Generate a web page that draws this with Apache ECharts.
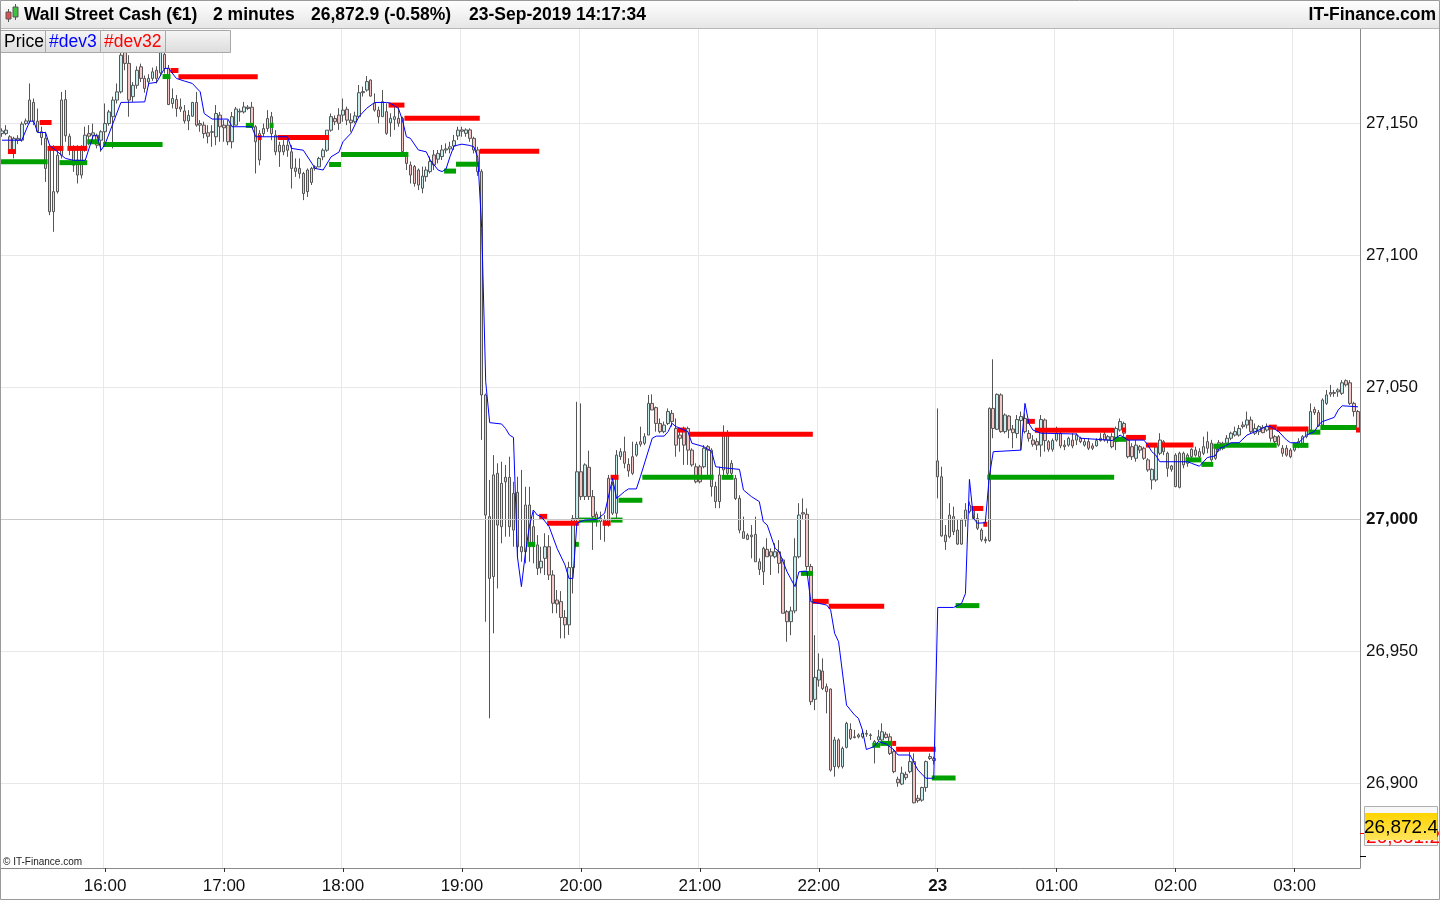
<!DOCTYPE html>
<html><head><meta charset="utf-8">
<script src="https://cdn.jsdelivr.net/npm/echarts@6/dist/echarts.min.js"></script>
<style>html,body{margin:0;padding:0;background:#fff}#c{width:1440px;height:900px}</style>
</head><body><div id="c"></div>
<script>
// ---------- DATA ----------
const sessions = [['15:08', 236], ['00:00', 107]];   // Friday session, Monday session (2-minute bars)
const dayLabel = '23';                                // label shown at 00:00 of Monday
const yMin = 26867.8, yMax = 27186;
const lastPrice = 26872.4, otherPrice = 26881.2;
const headerTexts = ['Wall Street Cash (€1)', '2 minutes', '26,872.9 (-0.58%)', '23-Sep-2019 14:17:34'];
const siteName = 'IT-Finance.com';
const legendNames = ['Price', '#dev3', '#dev32'];

// [open, close, low, high]
const candles = [
[27146,27147,27144.8,27148],[27146,27147.3,27145.4,27149.2],[27144.8,27139.7,27139,27145.4],[27138.5,27144.2,27136.6,27144.8],
[27144.2,27143.5,27142,27145.4],[27143.5,27149.6,27142.9,27150.5],[27149.8,27150.8,27149.2,27151.7],[27150.7,27158.7,27149.8,27165],
[27157.8,27150.7,27149.2,27159.3],[27150.7,27146.7,27146.7,27155.5],[27146.7,27144.5,27141.6,27148.6],[27144.2,27132.8,27127.7,27146.7],
[27140.4,27116.4,27115.1,27141.6],[27116.4,27124,27108.8,27141.6],[27124,27137.8,27123.3,27140.4],[27137.8,27158.7,27136.6,27161.8],
[27158.9,27145.2,27142.9,27162.5],[27145,27140.4,27137.8,27146],[27141,27134,27131.5,27141.6],[27136,27130.3,27127.1,27141.6],
[27130.3,27140.4,27129,27141.6],[27140.4,27145.4,27139.1,27148.6],[27146,27145,27141.6,27149.2],[27145.4,27146.3,27143.5,27149.8],
[27145.4,27141.6,27140.4,27146],[27143.5,27146.7,27139.1,27147.3],[27146.7,27149.8,27141.6,27157.4],[27149.8,27154.2,27149,27155],
[27152.4,27158.7,27140.4,27160],[27158.7,27161.8,27157.4,27165],[27161.8,27175.7,27161.2,27177],[27178,27172.6,27170,27182],
[27172.6,27158.7,27152.4,27175.7],[27160,27164.3,27158,27165.5],[27164.3,27170,27163,27171.5],[27171.3,27166.9,27165.5,27172.5],
[27166.9,27163.1,27161.5,27168],[27165.6,27166.9,27164,27168.5],[27166.9,27169.4,27166,27171],[27170,27166.9,27165,27171.5],
[27169,27177,27168,27182],[27176,27170.6,27168.8,27180],[27170.8,27157,27156.8,27172],[27157.4,27159.3,27155.5,27163.1],
[27158.9,27155.5,27152.4,27160.6],[27156.1,27155.3,27154.2,27159.3],[27154.6,27150.8,27149.8,27156.8],[27150.8,27152.9,27147.3,27154.9],
[27152.6,27157.8,27152.4,27158],[27157.8,27149.2,27148.6,27161.8],[27149.8,27149.2,27146.7,27151.1],[27149.2,27146,27144.2,27150.5],
[27146.3,27145,27142.3,27149.2],[27146.5,27146.7,27141,27149.2],[27144.8,27153.6,27141.6,27156.8],[27153,27148.6,27142.9,27154.2],
[27149.2,27148.2,27142.9,27151.1],[27149.2,27142.9,27141.6,27151.1],[27142.9,27152.4,27140.4,27154.2],[27149.2,27155.3,27149.2,27156.1],
[27154.2,27154.5,27150.5,27155.5],[27154.2,27156.1,27153.6,27158],[27156,27155.5,27154.9,27156.8],[27156,27148.6,27148.6,27158],
[27148.6,27142.9,27130.9,27149.2],[27136,27146,27134,27147.3],[27146,27147.9,27144.8,27149.8],[27147.9,27151.7,27146.7,27154.9],
[27152.4,27146,27143.5,27154.2],[27145.4,27139.1,27137.8,27147.3],[27141.6,27139.1,27133.4,27142.9],[27139.1,27141.6,27137.8,27143.5],
[27141.6,27139.7,27137.2,27143.5],[27139.1,27132.8,27125.2,27141.6],[27133,27131.7,27129.6,27136.6],[27132.8,27130.9,27129,27136.6],
[27130.9,27123.3,27120.8,27131.5],[27132.2,27124,27122,27132.8],[27127.5,27132.8,27126.5,27133.4],[27132.8,27133.4,27132,27134],
[27133.4,27136.6,27133.4,27137.2],[27137.2,27139.7,27135.9,27140.4],[27139.7,27147.3,27139.1,27147.3],[27147.3,27152.4,27146.7,27153.6],
[27151.7,27150.5,27149.2,27152.9],[27153,27149.9,27147.4,27155.6],[27153,27154.9,27150.5,27159.3],[27155.2,27151.1,27149.2,27156.2],
[27151.1,27150.1,27146.7,27153.7],[27150.5,27152.7,27149.9,27154.3],[27152.4,27161.5,27152.4,27164.4],[27161.5,27161.9,27160,27163.8],
[27162.5,27165.7,27161.9,27167.8],[27166.3,27160.2,27160,27166.5],[27157.5,27154.9,27154.3,27161.2],[27154.9,27152.4,27149.9,27156.2],
[27152.4,27158.1,27152.4,27162.5],[27154.3,27146.1,27145.5,27157.5],[27150.1,27151.8,27144.8,27153.7],[27151.4,27152.4,27147.4,27156.2],
[27151.8,27149.9,27148.6,27157.5],[27151.8,27139.2,27138.5,27152.4],[27137.9,27134.7,27132.2,27139.1],[27134.1,27130.3,27127.1,27135.4],
[27133.5,27127.1,27125.9,27134.1],[27132.2,27126.5,27124.6,27132.8],[27125.3,27129.9,27123.4,27133.5],[27129.7,27132.2,27127.8,27133.5],
[27131.6,27135.4,27130.9,27137.3],[27137.9,27134.1,27132.2,27139.8],[27136.3,27138.5,27134.7,27139.8],[27137.3,27139.8,27136,27141.7],
[27139.8,27140.2,27138.5,27142.3],[27140.2,27141,27138.5,27142.9],[27141.3,27143.3,27139.8,27145.5],[27145.1,27147.3,27143.6,27148.6],
[27147.4,27146.9,27144.8,27148.6],[27146.1,27147.4,27144.8,27148],[27147.4,27144.2,27142.9,27148],[27144.2,27139.8,27138.5,27144.8],
[27139.8,27131.6,27130,27141],[27131.6,27047,27030,27132.5],[27047,27001.5,26961.1,27047.5],[27000.9,26977.5,26924.5,27014.8],
[26978.2,27016.7,26956.7,27024.2],[27017.3,26997.7,26973.7,27021.1],[26997.1,27013.5,26990.8,27021.7],[27015.8,27014.1,26993.3,27020.5],
[27015.8,26997.1,26993.3,27023.6],[27009.7,26995.8,26989.5,27014.1],[27010.1,26989.5,26985.1,27016],[26989.5,26987.6,26983.8,27018.6],
[26987.6,27005.3,26983.2,27012.2],[27005.3,26989.5,26983.8,27012.2],[26997.1,26989.5,26983.2,27002.8],[26990.2,26981.3,26978.8,26993.9],
[26981.5,26984,26979.4,26989.5],[26985.1,26989.5,26978.8,26994.6],[26989.5,26978.8,26976.9,26993.9],[26978.8,26968.1,26964.3,26980.6],
[26969.3,26967.8,26964.3,26973.1],[26968.7,26962.7,26954.8,26972.7],[26962.7,26959.9,26954.8,26965.5],[26959.9,26981.6,26956.1,26983.8],
[26981.6,27000.2,26971.8,27001.5],[27000.2,27017.9,26999,27044.4],[27017.9,27008.5,27007.2,27043.8],[27008.5,27020.5,27007.2,27021.1],
[27019.6,27008.5,27007.2,27025.9],[27008.5,27000.9,26988.3,27011],[27001.8,26999.6,26997.1,27002.8],[26999,27000.3,26992.1,27002.8],
[26997.7,26999.6,26991.4,27001.5],[27015.4,26999,26997.1,27016.7],[27002.2,27012.9,27001.5,27014.1],[27002.2,27024.2,26999,27026.1],
[27023.6,27025.5,27022.4,27026.8],[27025.5,27021.1,27019.2,27031.2],[27020.7,27018.2,27016,27023],[27023.6,27017.3,27016.7,27029.3],
[27024.2,27028.3,27023.6,27029.3],[27029.3,27028.3,27027.4,27035],[27028.7,27031.2,27028,27032.5],[27031.8,27043.8,27031.8,27047],
[27043.8,27041.3,27041.3,27047.2],[27042.2,27036.2,27033.1,27042.6],[27036.2,27033.1,27032.5,27038.1],[27033.1,27035.6,27032.5,27036.9],
[27036.2,27040.7,27035.6,27041.9],[27040,27036.9,27035,27041.3],[27034.3,27028,27023.6,27038.1],[27031.8,27030.6,27025.5,27033.1],
[27034.3,27028,27020.5,27035],[27034.3,27026.1,27020.5,27035],[27026.1,27020.5,27019.8,27026.8],[27019.8,27014.1,27013.5,27021.1],
[27019.8,27014.1,27013.5,27020.5],[27019.8,27026.8,27019.2,27028],[27027.4,27026.1,27016.7,27028],[27026.1,27012.3,27008.5,27026.8],
[27012.3,27006.6,27004.1,27014.1],[27006.6,27016.7,27004.1,27019.8],[27018.6,27032.4,27016,27035.5],[27032.4,27017.3,27016.7,27033.7],
[27021.1,27017.3,27016,27022.3],[27015.4,27007.8,27007.2,27016.7],[27007.8,26995.8,26994.6,27009],[26995.2,26992.7,26992.7,27000.9],
[26992.3,26993.9,26992,26994.6],[26993.9,26993.3,26985.1,26997.7],[26994.2,26983.8,26983.8,27000.9],[26983.8,26980.9,26978.8,26985.1],
[26980,26988.9,26975,26989.5],[26988.5,26985.7,26985.7,26992.7],[26987.6,26986,26978.8,26988.9],[26985.7,26987.6,26985.1,26990.8],
[26987.6,26983.2,26979.4,26992],[26984.5,26964.3,26964.3,26985.1],[26964.9,26961.1,26953.5,26965.5],[26961.1,26965.2,26956,26966.8],
[26965.2,26985.7,26964.3,26992.7],[26985.7,27001.5,26985.1,27006],[27002.4,27001.9,26999.6,27007.8],[27001.8,26982,26980.7,27004],
[26982,26930.8,26929.5,26983],[26931.7,26940,26927.6,26956],[26939,26942.8,26936.5,26949.1],[26942.4,26935.8,26935.2,26947.2],
[26936.5,26934.6,26926.4,26937.7],[26935.6,26904.9,26904.3,26935.8],[26906.2,26916.3,26902.4,26917.5],[26916.3,26906.2,26905.5,26916.9],
[26906.2,26913.1,26905.5,26913.8],[26913.5,26922.6,26913.1,26923.2],[26920.3,26916.9,26916.3,26922.6],[26917.5,26917.2,26916.9,26920.1],
[26918.2,26917.5,26916.9,26918.8],[26917.5,26918.8,26916.9,26920.1],[26918.8,26918.5,26917.5,26920.1],[26918.2,26918,26916.3,26918.8],
[26913.8,26915.7,26907.4,26916.3],[26916.3,26917.5,26915.7,26920.1],[26916.3,26919.4,26915.7,26922.6],[26918.5,26917.2,26916.9,26919.4],
[26917.5,26911.2,26910.6,26918.8],[26911.9,26904.3,26903.7,26912.5],[26901.4,26900.1,26898.6,26902.4],[26899.6,26903.7,26899.2,26906.2],
[26903.3,26902,26901.1,26904.3],[26904.3,26908.1,26903.7,26911.9],[26908.1,26892.5,26892.3,26911.2],[26894.2,26893.3,26892.5,26895.5],
[26893.5,26898.3,26892.9,26898.6],[26898.3,26908.1,26896.7,26908.5],[26910,26909.3,26908.7,26911.2],[26909.3,26908.5,26907,26910],
[27022,27016,27007.8,27041.9],[27016,26993.6,26993.3,27019.8],[26993.9,26991.4,26988.3,26997.7],[26993.3,27001.5,26992.7,27006],
[27000.9,26995.2,26993.9,27004.7],[26995.8,26990.5,26990.2,26999.6],[26990.5,26999.6,26990.2,27000.2],[26999.6,27003.4,26997.1,27006],
[27002.8,27005.3,27002.1,27006.6],[27003.4,27000.2,26999.6,27004.7],[27000.2,26996.5,26995.8,27002.1],[26995.8,26992.1,26991.4,26996.5],
[26992.3,26991.8,26990.8,26993.3],[26991.8,27041.9,26991.4,27042.3],[27041.9,27034.3,27030.6,27060.5],[27034,27047.2,27033.7,27047.6],
[27047,27033.1,27032.7,27047.6],[27033.1,27039.4,27032.4,27040],[27039,27033.7,27030.6,27039.4],[27034.1,27032.7,27026.8,27035.6],
[27032.4,27037.7,27030.6,27039.4],[27037.3,27038.8,27026.1,27040.7],[27038.1,27033.1,27032.4,27040],[27032.4,27030.6,27029.3,27033.7],
[27029.9,27028.3,27027.4,27031.8],[27029.3,27028,27026.1,27030.6],[27028,27037.7,27023.6,27039.4],[27037.5,27029.7,27025.5,27038.1],
[27029.3,27026.4,27025.5,27029.9],[27026.4,27029.7,27025.5,27030.5],[27029.9,27032.5,27029.3,27035],[27032.5,27027.7,27026.8,27033.1],
[27028,27027.4,27026.1,27029.9],[27028,27030.6,27027.4,27031.2],[27029.9,27027.7,27026.8,27032.5],[27029.9,27031.8,27028,27032.5],
[27030.6,27029.3,27028.7,27031.2],[27028,27029.3,27027.4,27030.6],[27029.3,27026.8,27026.1,27030.6],[27027.7,27026.8,27026.1,27028.7],
[27027.7,27029.7,27027.4,27030.6],[27029.7,27030.6,27029.3,27032.5],[27032.2,27029.9,27029.3,27033.1],[27029.9,27031.2,27028.7,27031.8],
[27031.2,27027.4,27026.8,27032.5],[27029.3,27034.3,27026.1,27035],[27033.7,27036.9,27033.1,27038.1],[27036.2,27032.5,27031.2,27036.9],
[27029.9,27023.6,27023,27031.2],[27027.4,27023.6,27022.4,27028.7],[27023,27028,27021.7,27029.9],[27027.4,27026.1,27024.9,27028],
[27026.8,27023,27022.4,27027.4],[27022.4,27018.6,27017.9,27023],[27014.8,27018.8,27011.2,27019.2],[27014.8,27027.4,27014.1,27028.7],
[27024.9,27029.9,27024.2,27032.5],[27029.3,27025.5,27024.2,27029.9],[27024.9,27019.2,27016,27025.5],[27020.1,27018.8,27017.9,27020.5],
[27024.2,27012.3,27012,27024.9],[27012,27024.9,27011.6,27025.5],[27020.5,27024.9,27019.2,27025.5],[27024.2,27021.1,27019.8,27024.9],
[27023.6,27026.4,27023,27026.8],[27026.1,27024.2,27023.6,27027.4],[27023.6,27025.5,27023,27026.8],[27024.9,27027.4,27024.2,27031.2],
[27026.8,27029.3,27024.9,27033.1],[27028.7,27022.4,27021.7,27030],[27023,27026.8,27022.4,27028],[27026.1,27028.9,27025.5,27029.9],
[27028.7,27026.8,27026.1,27029.3],[27028.7,27030.6,27028,27031.8],[27030.6,27032.5,27029.9,27033.1],[27031.8,27033.1,27031.2,27035],
[27031.8,27034.3,27031.2,27035.6],[27035.6,27035,27034.3,27036.9],[27035.6,27037.5,27034.3,27040.7],[27037.5,27033.1,27032.5,27038.8],
[27032.5,27034.3,27031.8,27036.2],[27033.1,27035,27031.8,27035.6],[27034.7,27032.7,27032.5,27035.6],[27033.7,27035,27033.1,27036.2],
[27034.3,27030.6,27029.3,27035.6],[27031.2,27029.3,27028,27031.8],[27031.2,27028,27027.4,27031.8],[27026.8,27024.9,27023.6,27028],
[27026.8,27024.2,27023.6,27028],[27026.1,27023.6,27023,27026.8],[27026.1,27028,27025.5,27028.7],[27027.4,27029.3,27026.8,27030.6],
[27028.7,27031.2,27028,27031.8],[27031.2,27033.7,27030.6,27035],[27033.7,27040.7,27033.1,27043.8],[27041.5,27040.3,27039.4,27042.5],
[27040.3,27035.2,27035,27041.3],[27035.6,27045.1,27035,27045.7],[27043.8,27047,27043.2,27048.9],[27047.9,27047.3,27046.3,27050.8],
[27047.9,27047.6,27046.3,27048.9],[27048.2,27048.9,27046.3,27049.5],[27047.6,27051.6,27047,27052.6],[27052.4,27050.8,27050.2,27052.9],
[27051.6,27043.8,27043.2,27052.6],[27043.8,27040.7,27038.8,27044.4],[27040.7,27034.3,27033,27041.3]
];

// #dev3 (blue line) vertices: [bar index, value]
const dev3 = [
[0,27143.5],[5,27143.5],[7,27150.7],[8,27150.7],[9,27146.4],[11,27146.4],[12,27141.6],[16,27136.6],[18,27135.9],[21,27135.9],
[23,27145.2],[24,27145.2],[25,27139.7],[26,27142],[30,27157.8],[36,27158],[37,27165],[39,27165.4],[41,27170.7],[42,27170.7],
[44,27166.9],[46,27165.9],[48,27165],[50,27161.8],[51,27153.6],[53,27151.5],[57,27151.5],[58,27148.6],[63,27148.6],[64,27144.8],
[72,27144.8],[73,27140.4],[76,27139.7],[79,27132.8],[81,27132.2],[83,27137.2],[85,27139],[86,27142.9],[88,27146.1],[90,27152.4],
[92,27155.6],[94,27157.8],[97,27157.8],[98,27157.5],[100,27155.5],[101,27151.1],[102,27144.8],[103,27144.2],[105,27139.8],[107,27139.1],
[108,27136],[110,27132.2],[111,27131.6],[112,27132.6],[113,27137.3],[114,27141.3],[116,27142],[118,27141.5],[119,27141],[120,27137],
[121,27110],[122,27052],[123,27036.5],[126,27036],[127,27034.3],[128,27031.8],[129,27030.9],[130,26985.7],[131,26974.4],[132,26987],
[133,26997.1],[134,27003.4],[135,27001.5],[136,27000.9],[138,26997.1],[140,26988.9],[142,26982.6],[143,26977.5],[144,26977.5],[145,26998.4],
[147,26999.6],[150,26999.8],[152,27002.2],[154,27015.4],[155,27007.8],[157,27010.4],[158,27011.4],[160,27011.4],[161,27016],[164,27030.6],
[165,27031.4],[167,27031.4],[168,27033.1],[169,27036.2],[170,27035],[173,27033.1],[174,27028.7],[177,27027.4],[179,27025.5],[180,27019.8],
[182,27019.4],[186,27018.8],[187,27011],[189,27008.5],[191,27006.6],[192,26999],[193,26997.7],[195,26988.9],[196,26987.6],[198,26980],
[200,26974.4],[201,26980],[203,26980.3],[204,26968.7],[208,26967.4],[209,26965.5],[210,26956.7],[211,26953.5],[213,26929.5],[215,26925.8],
[216,26924.5],[217,26920.1],[218,26912.7],[220,26913.8],[221,26915.7],[223,26914.8],[225,26912.5],[226,26910.6],[229,26910.6],[231,26904.9],
[233,26901.8],[235,26901.8],
[236,26966.5],[240,26966.5],[242,26968],[243,26971.8],[244,27015],[245,27000.3],[246,26998.4],[248,26998.6],[249,27016],[250,27025.5],
[257,27026.1],[258,27043.8],[259,27036.2],[260,27033.7],[262,27032.5],[271,27032.2],[272,27030.6],[279,27029.9],[280,27029.7],[282,27031.8],
[284,27029.9],[288,27029.9],[289,27028],[290,27025.5],[291,27024.2],[292,27021.7],[299,27021.7],[300,27021.1],[302,27020],[304,27023.3],
[306,27023.9],[307,27026.8],[308,27027.2],[310,27028.9],[312,27028.9],[314,27031.8],[317,27033.7],[319,27035.2],[320,27035],[322,27033.1],
[324,27029.9],[325,27028.9],[327,27028.9],[329,27031.8],[331,27033.1],[332,27035.6],[333,27036.9],[336,27038.5],[337,27041.3],[338,27042.9],
[342,27042.5]
];

// #dev32 levels: [first bar, last bar, value]
const redLevels = [
[2,3,27139.2],[10,12,27150.2],[12,15,27140.4],[17,21,27140.4],[43,44,27169.9],[45,64,27167.5],[65,65,27144.5],[70,82,27144.5],
[98,101,27156.8],[102,120,27151.8],[121,135,27139.3],[136,137,27001],[138,145,26998.4],[152,153,26998.4],[154,155,27015.8],
[171,172,27033.7],[174,204,27032.1],[205,208,26968.8],[209,222,26967],[225,225,26915],[226,235,26912.8],
[245,247,27004],[248,248,26998],[259,260,27037],[261,280,27033.6],[283,283,27033.7],[284,288,27030.9],[289,291,27028],
[293,300,27028],[320,321,27034.8],[322,329,27034.1],[342,342,27033.7]
];
const greenLevels = [
[0,11,27135.3],[15,21,27135],[22,24,27142.9],[26,40,27141.9],[41,42,27167.6],[62,63,27149.1],[68,68,27149.1],[83,85,27134.3],
[86,102,27138.1],[112,114,27131.8],[115,120,27134.4],[133,134,26990.4],[145,145,26990.4],[146,150,26999.6],[154,156,26999.6],
[156,161,27007.1],[162,179,27015.8],[182,184,27015.8],[202,204,26979.4],[220,221,26914.3],[222,224,26915],[235,240,26901.9],
[241,246,26967.2],[249,280,27015.8],[281,283,27030.2],[299,302,27022.4],[303,305,27020.7],[306,308,27027.6],[309,321,27027.9],
[326,329,27027.9],[330,332,27032.9],[333,341,27034.7]
];

// ---------- BUILD ----------
function buildTimes() {
  const out = [];
  for (const [start, n] of sessions) {
    let [h, m] = start.split(':').map(Number);
    for (let k = 0; k < n; k++) {
      out.push(String(h).padStart(2, '0') + ':' + String(m).padStart(2, '0'));
      m += 2; if (m >= 60) { m -= 60; h = (h + 1) % 24; }
    }
  }
  return out;
}
const times = buildTimes();
const isHour = (idx, val) => val.slice(3) === '00';
const FONT = '"Liberation Sans", Arial, sans-serif';
const fmt = v => v.toLocaleString('en-US');

function levelSeries(data, color) {
  return {
    type: 'custom', data, encode: { x: [0, 1], y: 2 }, z: 4, animation: false, silent: true,
    renderItem: (params, api) => {
      const s = api.value(0), e = api.value(1), v = api.value(2);
      const a = api.coord([s, v]), b = api.coord([e, v]);
      const w = api.size([1, 0])[0];
      return { type: 'rect', shape: { x: a[0] - w / 2, y: a[1] - 2.5, width: b[0] - a[0] + w, height: 5 }, style: { fill: color } };
    }
  };
}

const chart = echarts.init(document.getElementById('c'));
chart.setOption({
  animation: false,
  backgroundColor: '#ffffff',
  grid: { left: 0, right: 80, top: 28, bottom: 32, containLabel: false },
  xAxis: {
    type: 'category', data: times, boundaryGap: true,
    axisLine: { show: true, lineStyle: { color: '#8a8a8a' } },
    axisTick: { show: true, interval: isHour, alignWithLabel: true, length: 4, lineStyle: { color: '#333' } },
    axisLabel: {
      interval: isHour, margin: 10, fontSize: 17, color: '#111', fontFamily: FONT,
      formatter: v => v === '00:00' ? '{b|' + dayLabel + '}' : v,
      rich: { b: { fontWeight: 'bold', fontSize: 17, fontFamily: FONT, color: '#111' } }
    },
    splitLine: { show: true, interval: isHour, lineStyle: { color: '#e8e8e8', width: 1 } }
  },
  yAxis: {
    type: 'value', position: 'right', min: yMin, max: yMax, minInterval: 50, maxInterval: 50, splitNumber: 6,
    axisLine: { show: true, lineStyle: { color: '#8a8a8a' } },
    axisTick: { show: false },
    axisLabel: {
      showMinLabel: false, showMaxLabel: false, margin: 6, fontSize: 17, color: '#111', fontFamily: FONT,
      formatter: v => v === 27000 ? '{b|' + fmt(v) + '}' : fmt(v),
      rich: { b: { fontWeight: 'bold', fontSize: 17, fontFamily: FONT, color: '#111' } }
    },
    splitLine: { show: true, lineStyle: { color: '#e8e8e8', width: 1 } }
  },
  series: [
    {
      type: 'candlestick', data: candles, barWidth: 3, z: 2,
      itemStyle: { color: '#c4efee', color0: '#f5c6c6', borderColor: '#555555', borderColor0: '#555555', borderWidth: 1 },
      markLine: { silent: true, symbol: 'none', label: { show: false }, lineStyle: { color: '#c9c9c9', width: 1, type: 'solid' }, data: [{ yAxis: 27000 }] }
    },
    levelSeries(redLevels, '#ff0000'),
    levelSeries(greenLevels, '#00a000'),
    { type: 'line', data: dev3, symbol: 'none', z: 5, lineStyle: { color: '#0000ff', width: 1 } }
  ]
});

// ---------- DECORATION (header, legend, price labels) ----------
const yLast = chart.convertToPixel({ yAxisIndex: 0 }, lastPrice);
const yOther = chart.convertToPixel({ yAxisIndex: 0 }, otherPrice);
const grad = (a, b) => new echarts.graphic.LinearGradient(0, 0, 0, 1, [{ offset: 0, color: a }, { offset: 1, color: b }]);
const g = [];
// header
g.push({ type: 'rect', shape: { x: 0, y: 0, width: 1440, height: 28 }, style: { fill: grad('#ffffff', '#e6e6e6') }, z: 100 });
g.push({ type: 'line', shape: { x1: 0, y1: 28.5, x2: 1440, y2: 28.5 }, style: { stroke: '#b8b8b8', lineWidth: 1 }, z: 101 });
// icon
g.push({ type: 'line', shape: { x1: 8.5, y1: 9, x2: 8.5, y2: 22 }, style: { stroke: '#555', lineWidth: 1 }, z: 102 });
g.push({ type: 'rect', shape: { x: 6, y: 12, width: 5, height: 7 }, style: { fill: '#e05050', stroke: '#555', lineWidth: 1 }, z: 103 });
g.push({ type: 'line', shape: { x1: 15.5, y1: 4, x2: 15.5, y2: 20 }, style: { stroke: '#555', lineWidth: 1 }, z: 102 });
g.push({ type: 'rect', shape: { x: 13, y: 7, width: 5, height: 10 }, style: { fill: '#40c040', stroke: '#555', lineWidth: 1 }, z: 103 });
const hx = [24, 213, 311, 469];
headerTexts.forEach((t, k) => g.push({ type: 'text', x: hx[k], y: 15, style: { text: t, font: 'bold 17.5px ' + FONT, fill: '#000', verticalAlign: 'middle' }, z: 104 }));
g.push({ type: 'text', x: 1436, y: 15, style: { text: siteName, font: 'bold 17.5px ' + FONT, fill: '#000', align: 'right', verticalAlign: 'middle' }, z: 104 });
// legend boxes
const lb = [[0, 45], [45, 100], [100, 165], [165, 230]];
const lc = ['#000', '#0000ff', '#ff0000'];
lb.forEach(([a, b], k) => {
  g.push({ type: 'rect', shape: { x: a + 0.5, y: 30.5, width: b - a, height: 22 }, style: { fill: grad('#f6f6f6', '#dcdcdc'), stroke: '#a8a8a8', lineWidth: 1 }, z: 100 });
  if (k < 3) g.push({ type: 'text', x: a + 4, y: 42, style: { text: legendNames[k], font: '17.5px ' + FONT, fill: lc[k], verticalAlign: 'middle' }, z: 104 });
});
// copyright
g.push({ type: 'text', x: 3, y: 862, style: { text: '© IT-Finance.com', font: '10px ' + FONT, fill: '#222', verticalAlign: 'middle' }, z: 104 });
// price ticks / labels on the right axis
g.push({ type: 'line', shape: { x1: 1360, y1: Math.round(yOther) + 0.5, x2: 1366, y2: Math.round(yOther) + 0.5 }, style: { stroke: '#ff0000', lineWidth: 1 }, z: 104 });
g.push({ type: 'line', shape: { x1: 1360, y1: Math.round(yLast) + 0.5, x2: 1366, y2: Math.round(yLast) + 0.5 }, style: { stroke: '#000', lineWidth: 1 }, z: 104 });
g.push({ type: 'rect', shape: { x: 1364.5, y: 806.5, width: 73, height: 39 }, style: { fill: '#f7f7f7', stroke: '#b0b0b0', lineWidth: 1 }, z: 105 });
g.push({ type: 'text', x: 1366, y: 838, style: { text: otherPrice.toLocaleString('en-US', { minimumFractionDigits: 1 }), font: '19px ' + FONT, fill: '#ff0000', verticalAlign: 'middle' }, z: 106 });
g.push({ type: 'rect', shape: { x: 1365, y: 813, width: 72, height: 27 }, style: { fill: grad('#ffd400', '#ffe45a') }, z: 107 });
g.push({ type: 'text', x: 1401, y: 828, style: { text: lastPrice.toLocaleString('en-US', { minimumFractionDigits: 1 }), font: '19px ' + FONT, fill: '#000', align: 'center', verticalAlign: 'middle' }, z: 108 });
// outer frame
g.push({ type: 'rect', shape: { x: 0.5, y: 0.5, width: 1439, height: 899 }, style: { fill: 'none', stroke: '#9a9a9a', lineWidth: 1 }, z: 120 });
chart.setOption({ graphic: g });
</script>
</body></html>
